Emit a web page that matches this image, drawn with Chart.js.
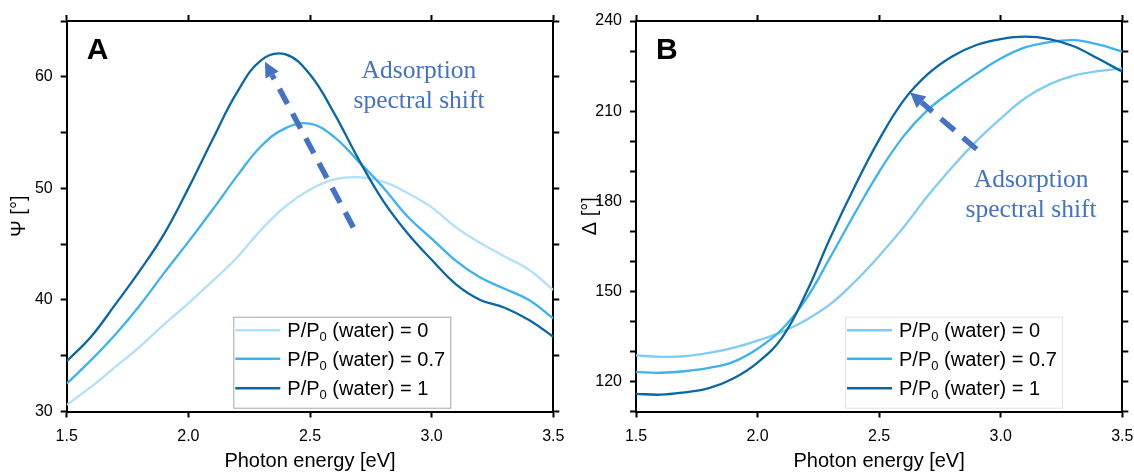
<!DOCTYPE html>
<html>
<head>
<meta charset="utf-8">
<script src="https://cdn.jsdelivr.net/npm/chart.js@4.4.1/dist/chart.umd.min.js"></script>
<style>
  body { margin: 0; background: #fff; }
  .panel { position: absolute; top: 0; width: 567px; height: 473px; }
</style>
</head>
<body>
<div class="panel" style="left:0"><canvas id="psiChart" width="567" height="473"></canvas></div>
<div class="panel" style="left:567px"><canvas id="deltaChart" width="567" height="473"></canvas></div>
<script>
// photon energy grid [eV]
const energy = [1.5, 1.6, 1.7, 1.8, 1.9, 2.0, 2.1, 2.2, 2.3, 2.4, 2.5, 2.6, 2.7, 2.8, 2.9, 3.0, 3.1, 3.2, 3.3, 3.4, 3.5];

// Psi [deg] for P/P0 = 0, 0.7, 1
const psi0  = [30.6, 32.2, 34.0, 35.8, 37.8, 39.7, 41.7, 43.8, 46.3, 48.4, 49.9, 50.8, 51.0, 50.6, 49.6, 48.3, 46.5, 45.1, 43.9, 42.7, 40.9];
const psi07 = [32.5, 34.6, 36.9, 39.5, 42.4, 45.2, 48.1, 51.1, 53.8, 55.4, 55.8, 54.6, 52.4, 50.1, 47.5, 45.5, 43.5, 42.0, 41.0, 40.0, 38.35];
const psi1  = [34.5, 36.7, 39.6, 42.6, 45.9, 50.0, 54.4, 58.6, 61.5, 62.0, 60.2, 56.7, 52.6, 48.9, 46.0, 43.6, 41.4, 40.0, 39.3, 38.2, 36.7];

// Delta [deg] for P/P0 = 0, 0.7, 1
const delta0  = [128.7, 128.2, 128.4, 129.5, 131.2, 133.6, 136.5, 140.5, 145.8, 153.2, 161.8, 171.3, 181.8, 191.3, 200.0, 207.5, 214.3, 218.9, 221.8, 223.3, 224.2];
const delta07 = [123.1, 122.9, 123.4, 124.5, 126.5, 130.9, 137.4, 147.5, 161.5, 176.0, 189.8, 201.6, 210.4, 216.7, 222.4, 227.5, 231.2, 233.0, 233.6, 232.2, 229.8];
const delta1  = [115.9, 115.6, 116.4, 117.8, 121.0, 126.3, 134.5, 149.5, 168.0, 185.0, 200.5, 213.5, 222.3, 228.2, 232.0, 234.0, 234.8, 234.0, 231.6, 227.5, 223.1];

const pressures = ['0', '0.7', '1'];
const psiLabels = [30, 40, 50, 60];
const deltaLabels = [120, 150, 180, 210, 240];

const lightA = '#b2e0fa', lightB = '#80ccf4', mid = '#3db2ee', dark = '#0a67a5';
const noteBlue = '#4472c4';

Chart.defaults.font.family = '"Liberation Sans", Arial, sans-serif';
Chart.defaults.color = '#000';

function toPoints(ys) {
  return energy.map((e, i) => ({ x: e, y: ys[i] }));
}

function line(label, ys, color, order) {
  return {
    label: label,
    data: toPoints(ys),
    borderColor: color,
    backgroundColor: color,
    borderWidth: 2.3,
    pointRadius: 0,
    tension: 0.4,
    order: order
  };
}

// panel letter, dashed arrow, note text and legend box
const decor = {
  id: 'decor',
  afterDraw(chart, args, o) {
    const { ctx, chartArea: ca, scales: { x, y } } = chart;
    ctx.save();

    ctx.fillStyle = '#000';
    ctx.font = 'bold 30px "Liberation Sans", Arial, sans-serif';
    ctx.textAlign = 'left';
    ctx.textBaseline = 'alphabetic';
    ctx.fillText(o.letter, ca.left + 20, ca.top + 37.5);

    // arrow
    const tx = x.getPixelForValue(o.arrowFrom[0]), ty = y.getPixelForValue(o.arrowFrom[1]);
    const hx = x.getPixelForValue(o.arrowTo[0]), hy = y.getPixelForValue(o.arrowTo[1]);
    const ang = Math.atan2(hy - ty, hx - tx);
    const headLen = 15, headW = 7.5;
    const bx = hx - Math.cos(ang) * headLen, by = hy - Math.sin(ang) * headLen;
    ctx.strokeStyle = noteBlue;
    ctx.lineWidth = 5.5;
    ctx.setLineDash(o.dash);
    ctx.beginPath();
    ctx.moveTo(tx, ty);
    ctx.lineTo(bx, by);
    ctx.stroke();
    ctx.setLineDash([]);
    ctx.fillStyle = noteBlue;
    ctx.beginPath();
    ctx.moveTo(hx, hy);
    ctx.lineTo(bx + Math.sin(ang) * headW, by - Math.cos(ang) * headW);
    ctx.lineTo(bx - Math.sin(ang) * headW, by + Math.cos(ang) * headW);
    ctx.closePath();
    ctx.fill();

    // note
    ctx.font = '25.5px "Liberation Serif", "Times New Roman", serif';
    ctx.textAlign = 'center';
    const nx = x.getPixelForValue(o.noteAt[0]), ny = y.getPixelForValue(o.noteAt[1]);
    ctx.fillText('Adsorption', nx, ny);
    ctx.fillText('spectral shift', nx, ny + 30);

    // legend
    const lx = ca.left + o.legendLeft, ly = ca.bottom - 3.8 - 91;
    ctx.strokeStyle = o.legendBorder;
    ctx.lineWidth = 1;
    ctx.strokeRect(lx + 0.5, ly + 0.5, o.legendWidth, 91);
    const rows = [13.5, 42, 71.5];
    chart.data.datasets.forEach((ds, i) => {
      const ry = ly + rows[i];
      ctx.strokeStyle = ds.borderColor;
      ctx.lineWidth = 2.5;
      ctx.beginPath();
      ctx.moveTo(lx + 2, ry);
      ctx.lineTo(lx + 47, ry);
      ctx.stroke();
      ctx.fillStyle = '#000';
      ctx.textAlign = 'left';
      ctx.font = '20px "Liberation Sans", Arial, sans-serif';
      let px = lx + 54;
      ctx.fillText('P/P', px, ry + 7);
      px += ctx.measureText('P/P').width;
      ctx.font = '13px "Liberation Sans", Arial, sans-serif';
      ctx.fillText('0', px, ry + 11);
      px += ctx.measureText('0').width;
      ctx.font = '20px "Liberation Sans", Arial, sans-serif';
      ctx.fillText(' (water) = ' + pressures[i], px, ry + 7);
    });
    ctx.restore();
  }
};

function axisStyle() {
  return {
    grid: { drawOnChartArea: false, drawTicks: true, tickLength: 6, tickColor: '#000', tickWidth: 2 },
    border: { display: true, color: '#000', width: 2 }
  };
}

function makeOptions(cfg) {
  return {
    responsive: false,
    animation: false,
    layout: { padding: 0 },
    plugins: { legend: { display: false }, tooltip: { enabled: false }, decor: cfg.decor },
    scales: {
      x: {
        type: 'linear', position: 'bottom', min: 1.5, max: 3.5,
        ticks: { stepSize: 0.5, padding: 9, font: { size: 16 }, maxRotation: 0, autoSkip: false,
                 callback: v => Number(v).toFixed(1) },
        title: { display: true, text: 'Photon energy [eV]', font: { size: 20 }, padding: { top: 0, bottom: 0 } },
        afterFit: s => { s.height = 61.5; s.paddingLeft = 0; s.paddingRight = 0; },
        ...axisStyle()
      },
      x2: {
        type: 'linear', position: 'top', min: 1.5, max: 3.5,
        ticks: { stepSize: 0.5, display: false },
        afterFit: s => { s.height = 21; s.paddingLeft = 0; s.paddingRight = 0; },
        ...axisStyle()
      },
      y: {
        type: 'linear', position: 'left', min: cfg.yMin, max: cfg.yMax,
        ticks: { stepSize: cfg.yStep, padding: 8, font: { size: 16 }, autoSkip: false,
                 callback: v => cfg.yLabels.includes(v) ? String(v) : '' },
        title: { display: true, text: cfg.yTitle, font: { size: 20 }, padding: { top: cfg.titlePad, bottom: 0 } },
        afterFit: s => { s.width = cfg.axisWidth; },
        ...axisStyle()
      },
      y2: {
        type: 'linear', position: 'right', min: cfg.yMin, max: cfg.yMax,
        ticks: { stepSize: cfg.yStep, display: false },
        afterFit: s => { s.width = cfg.padRight; },
        ...axisStyle()
      }
    }
  };
}

new Chart(document.getElementById('psiChart'), {
  type: 'line',
  data: {
    datasets: [
      line('P/P0 (water) = 0', psi0, lightA, 3),
      line('P/P0 (water) = 0.7', psi07, mid, 2),
      line('P/P0 (water) = 1', psi1, dark, 1)
    ]
  },
  options: makeOptions({
    padRight: 13.7, axisWidth: 66.7, titlePad: 7,
    yMin: 30, yMax: 65, yStep: 5, yLabels: psiLabels, yTitle: 'Ψ [°]',
    decor: {
      letter: 'A',
      arrowFrom: [2.678, 46.5], arrowTo: [2.315, 61.35], dash: [17, 11],
      noteAt: [2.948, 59.86],
      legendLeft: 166.6, legendWidth: 217, legendBorder: '#a6a6a6'
    }
  }),
  plugins: [decor]
});

new Chart(document.getElementById('deltaChart'), {
  type: 'line',
  data: {
    datasets: [
      line('P/P0 (water) = 0', delta0, lightB, 3),
      line('P/P0 (water) = 0.7', delta07, mid, 2),
      line('P/P0 (water) = 1', delta1, dark, 1)
    ]
  },
  options: makeOptions({
    padRight: 11.7, axisWidth: 69, titlePad: 11,
    yMin: 110, yMax: 240, yStep: 10, yLabels: deltaLabels, yTitle: 'Δ [°]',
    decor: {
      letter: 'B',
      arrowFrom: [2.901, 197.3], arrowTo: [2.627, 216.2], dash: [18, 11],
      noteAt: [3.125, 184.8],
      legendLeft: 209, legendWidth: 217, legendBorder: '#e3e3e3'
    }
  }),
  plugins: [decor]
});
</script>
</body>
</html>
